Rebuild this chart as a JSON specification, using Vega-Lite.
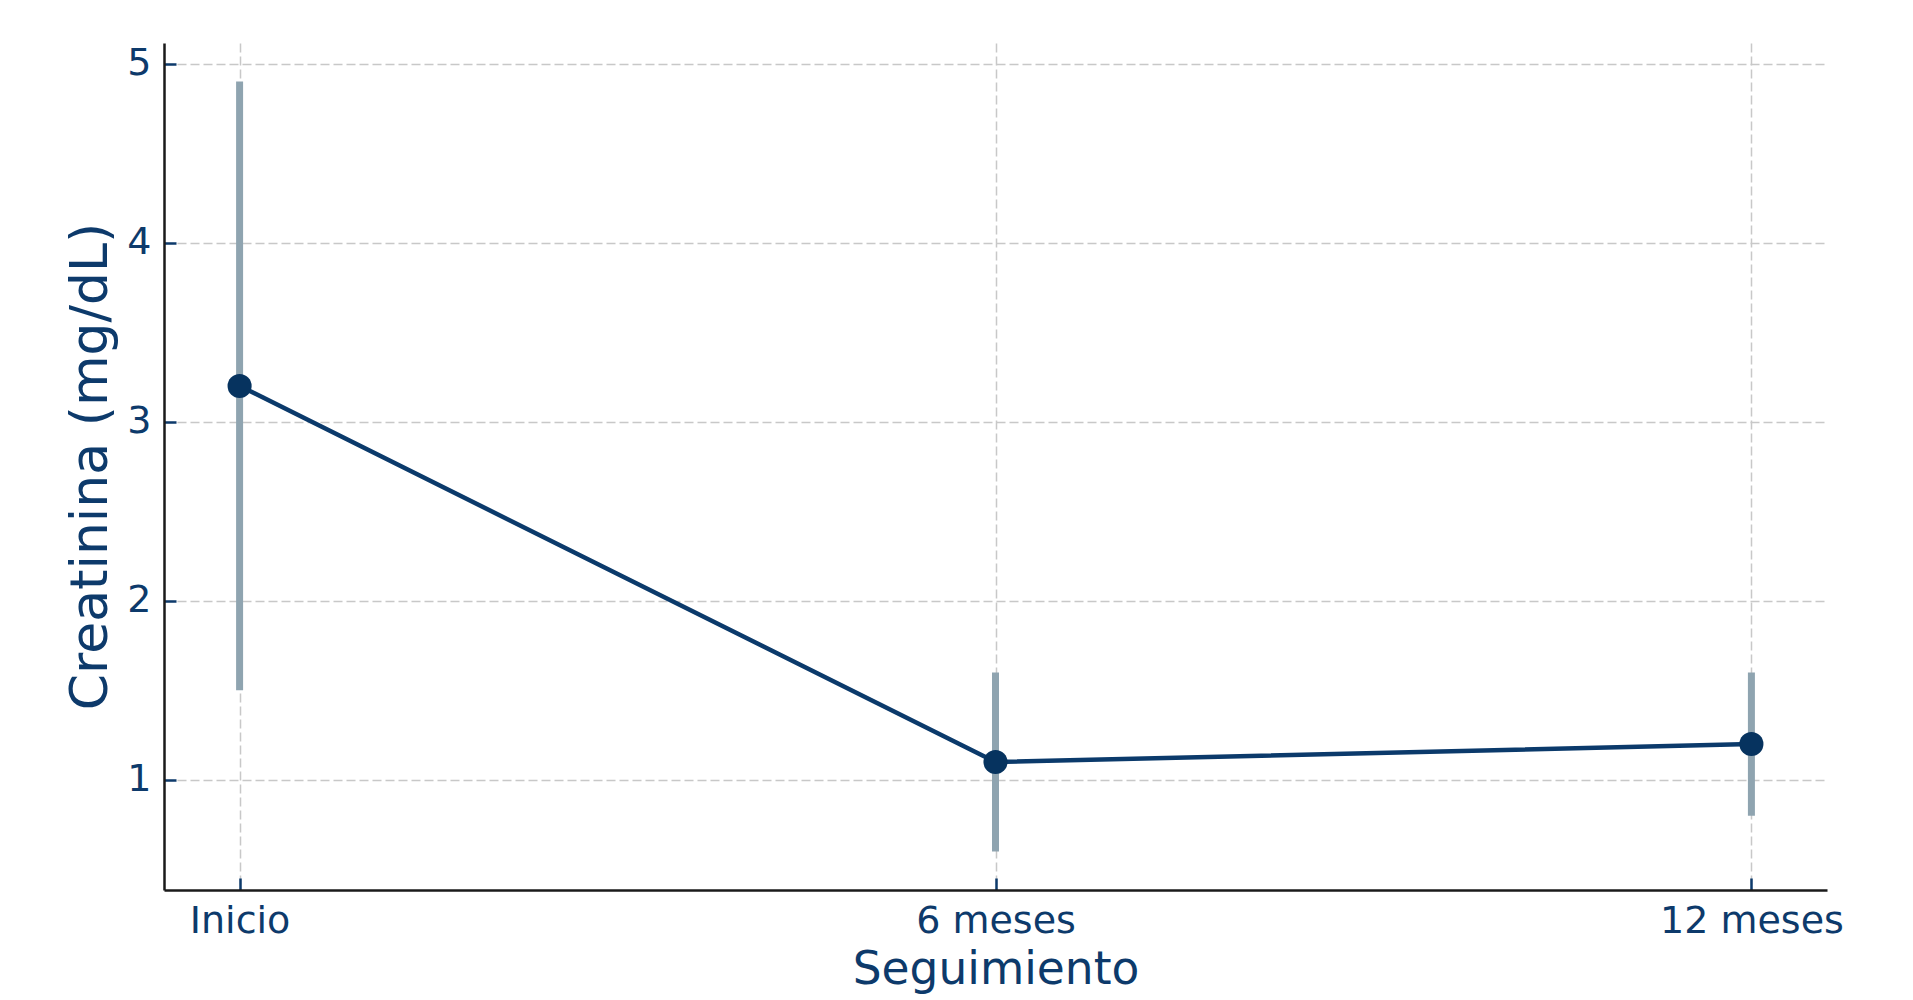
{
  "$schema": "https://vega.github.io/schema/vega-lite/v6.json",
  "autosize": {"type": "none"},
  "padding": {"left": 164, "top": 43, "right": 86, "bottom": 110},
  "width": 1663,
  "height": 847,
  "background": "white",
  "config": {
    "view": {"stroke": null},
    "font": "DejaVu Sans",
    "axis": {
      "labelFont": "DejaVu Sans",
      "titleFont": "DejaVu Sans",
      "labelColor": "#0d3a6b",
      "titleColor": "#0d3a6b",
      "labelFontSize": 38,
      "labelLimit": 500,
      "titleLimit": 1000,
      "titleFontWeight": "normal",
      "domainColor": "#1a1a1a",
      "domainWidth": 2.5,
      "tickColor": "#0d3a6b",
      "tickWidth": 2.5,
      "tickSize": -12,
      "gridColor": "#c8c8c8",
      "gridDash": [9, 4],
      "gridWidth": 1.5
    }
  },
  "data": {
    "values": [
      {"seguimiento": "Inicio", "media": 3.2, "min": 1.5, "max": 4.9},
      {"seguimiento": "6 meses", "media": 1.1, "min": 0.6, "max": 1.6},
      {"seguimiento": "12 meses", "media": 1.2, "min": 0.8, "max": 1.6}
    ]
  },
  "encoding": {
    "x": {
      "field": "seguimiento",
      "type": "ordinal",
      "sort": null,
      "scale": {"type": "point", "padding": 0.1},
      "axis": {
        "title": "Seguimiento",
        "titleFontSize": 45.5,
        "titleBaseline": "alphabetic",
        "titleY": 93,
        "labelAngle": 0,
        "labelBaseline": "alphabetic",
        "labelPadding": 54,
        "grid": true
      }
    }
  },
  "layer": [
    {
      "mark": {"type": "rule", "strokeWidth": 7, "color": "#8fa4b0"},
      "encoding": {
        "y": {
          "field": "min",
          "type": "quantitative",
          "scale": {"domain": [0.385, 5.115], "nice": false, "zero": false},
          "axis": {
            "title": "Creatinina (mg/dL)",
            "titleFontSize": 52,
            "titleAngle": -90,
            "titleBaseline": "alphabetic",
            "titleAlign": "center",
            "titleX": -58,
            "titleY": 423,
            "values": [1, 2, 3, 4, 5],
            "format": "d",
            "labelPadding": 25,
            "grid": true
          }
        },
        "y2": {"field": "max"}
      }
    },
    {
      "mark": {"type": "line", "strokeWidth": 4.5, "color": "#0b3a6b"},
      "encoding": {"y": {"field": "media", "type": "quantitative"}}
    },
    {
      "mark": {"type": "point", "filled": true, "opacity": 1, "size": 580, "color": "#06335f"},
      "encoding": {"y": {"field": "media", "type": "quantitative"}}
    }
  ]
}
